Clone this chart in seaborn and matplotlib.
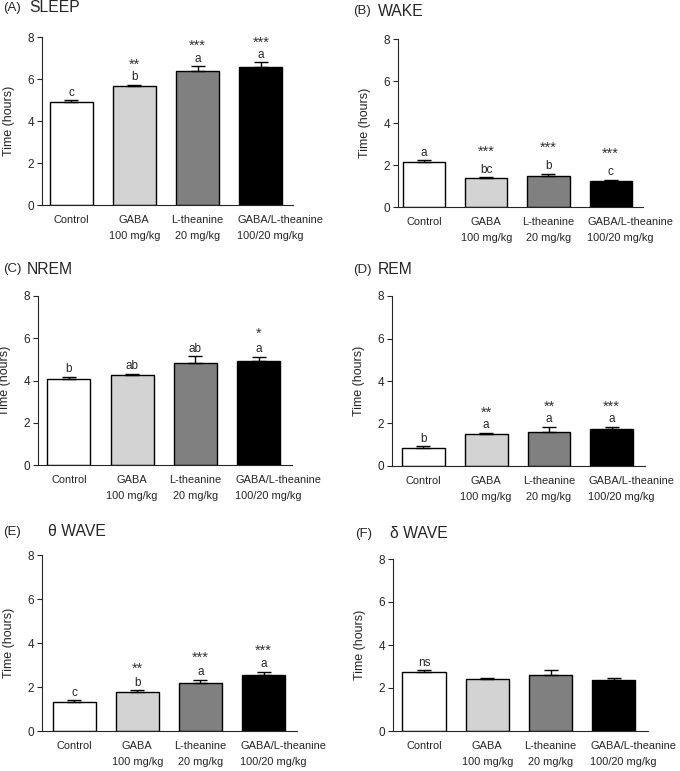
import matplotlib
matplotlib.use("Agg")
import matplotlib.pyplot as plt
import matplotlib.transforms as mtrans
import seaborn as sns
import pandas as pd
import numpy as np

sns.set_style("ticks")
plt.rcParams['font.family'] = ['Liberation Sans', 'DejaVu Sans']

# groups shown on every panel
groups = ['Control', 'GABA\n100 mg/kg', 'L-theanine\n20 mg/kg', 'GABA/L-theanine\n100/20 mg/kg']
bar_colors = ['white', '#d3d3d3', '#808080', 'black']

# mean time (hours) and SEM
sleep_mean = [4.92, 5.67, 6.40, 6.59]
sleep_sem = [0.08, 0.06, 0.22, 0.20]
wake_mean = [2.14, 1.36, 1.50, 1.22]
wake_sem = [0.10, 0.07, 0.09, 0.08]
nrem_mean = [4.08, 4.25, 4.82, 4.91]
nrem_sem = [0.09, 0.08, 0.33, 0.21]
rem_mean = [0.87, 1.50, 1.62, 1.72]
rem_sem = [0.05, 0.06, 0.22, 0.12]
theta_mean = [1.32, 1.79, 2.20, 2.54]
theta_sem = [0.08, 0.06, 0.14, 0.15]
delta_mean = [2.73, 2.40, 2.60, 2.37]
delta_sem = [0.09, 0.05, 0.22, 0.11]

# significance letters and stars
sleep_letters = ['c', 'b', 'a', 'a']
sleep_stars = ['', '**', '***', '***']
wake_letters = ['a', 'bc', 'b', 'c']
wake_stars = ['', '***', '***', '***']
nrem_letters = ['b', 'ab', 'ab', 'a']
nrem_stars = ['', '', '', '*']
rem_letters = ['b', 'a', 'a', 'a']
rem_stars = ['', '**', '**', '***']
theta_letters = ['c', 'b', 'a', 'a']
theta_stars = ['', '**', '***', '***']
delta_letters = ['ns', '', '', '']
delta_stars = ['', '', '', '']

panels = [
    ('(A)', 'SLEEP', sleep_mean, sleep_sem, sleep_letters, sleep_stars),
    ('(B)', 'WAKE', wake_mean, wake_sem, wake_letters, wake_stars),
    ('(C)', 'NREM', nrem_mean, nrem_sem, nrem_letters, nrem_stars),
    ('(D)', 'REM', rem_mean, rem_sem, rem_letters, rem_stars),
    ('(E)', 'θ WAVE', theta_mean, theta_sem, theta_letters, theta_stars),
    ('(F)', 'δ WAVE', delta_mean, delta_sem, delta_letters, delta_stars),
]

# layout in pixels: axes (left, right, top, bottom), title positions, star offsets
W, H = 680, 771
rects = [(42, 293, 37, 205), (398, 643, 39, 207),
         (38, 292, 296, 465), (392, 645, 296, 466),
         (42, 297, 555, 731), (393, 648, 559, 731)]
xlims = [(-0.46, 3.51), (-0.42, 3.52), (-0.49, 3.53),
         (-0.50, 3.53), (-0.51, 3.53), (-0.49, 3.54)]
titles_pos = [(3, 29, 8), (353, 378, 11), (3, 27, 269),
              (353, 378, 270), (3, 48, 532), (355, 390, 534)]
star_off = [11.5, 15.5, 14, 11.5, 12.5, 0]

fig = plt.figure(figsize=(W / 100, H / 100), dpi=100)

for k, (tag, name, means, sems, letters, stars) in enumerate(panels):
    l, r, t, b = rects[k]
    ax = fig.add_axes([l / W, 1 - b / H, (r - l) / W, (b - t) / H])
    df = pd.DataFrame({'group': groups, 'time': means})
    sns.barplot(data=df, x='group', y='time', hue='group', palette=bar_colors,
                legend=False, width=0.68, edgecolor='black', linewidth=1.0,
                errorbar=None, ax=ax)
    ax.errorbar(np.arange(4), means, yerr=[np.zeros(4), sems], fmt='none',
                ecolor='black', elinewidth=1.0, capsize=5, capthick=1.0, zorder=1)
    for i in range(4):
        top = means[i] + sems[i]
        if letters[i]:
            ax.annotate(letters[i], xy=(i, top), xytext=(0, 3.2), textcoords='offset points',
                        ha='center', va='baseline', fontsize=8.5)
        if stars[i]:
            ax.annotate(stars[i], xy=(i, top), xytext=(0, star_off[k]), textcoords='offset points',
                        ha='center', va='baseline', fontsize=10.5, color='#333333')
    ax.set_ylim(0, 8)
    ax.set_yticks([0, 2, 4, 6, 8])
    ax.set_xlim(*xlims[k])
    ax.set_xticks(range(4))
    ax.set_xticklabels(groups, linespacing=1.7)
    ax.tick_params(axis='x', length=0, pad=7.5, labelsize=7.9)
    ax.tick_params(axis='y', length=3.5, width=0.8, pad=2, labelsize=8.5, direction='out')
    # last label starts at the left edge of its bar, as in the original
    last = ax.get_xticklabels()[3]
    last.set_horizontalalignment('left')
    last.set_transform(last.get_transform() +
                       mtrans.ScaledTranslation(-0.235, 0, fig.dpi_scale_trans))
    ax.set_xlabel('')
    ax.set_ylabel('Time (hours)', fontsize=9)
    ax.yaxis.set_label_coords(-27 / (r - l), 0.5)
    sns.despine(ax=ax)
    for s in ['left', 'bottom']:
        ax.spines[s].set_linewidth(0.8)
    tx1, tx2, ty = titles_pos[k]
    fig.text(tx1 / W, 1 - ty / H, tag, fontsize=9.5, ha='left', va='center')
    fig.text(tx2 / W, 1 - ty / H, name, fontsize=11.3, ha='left', va='center')

fig.savefig('out.png', dpi=100)
